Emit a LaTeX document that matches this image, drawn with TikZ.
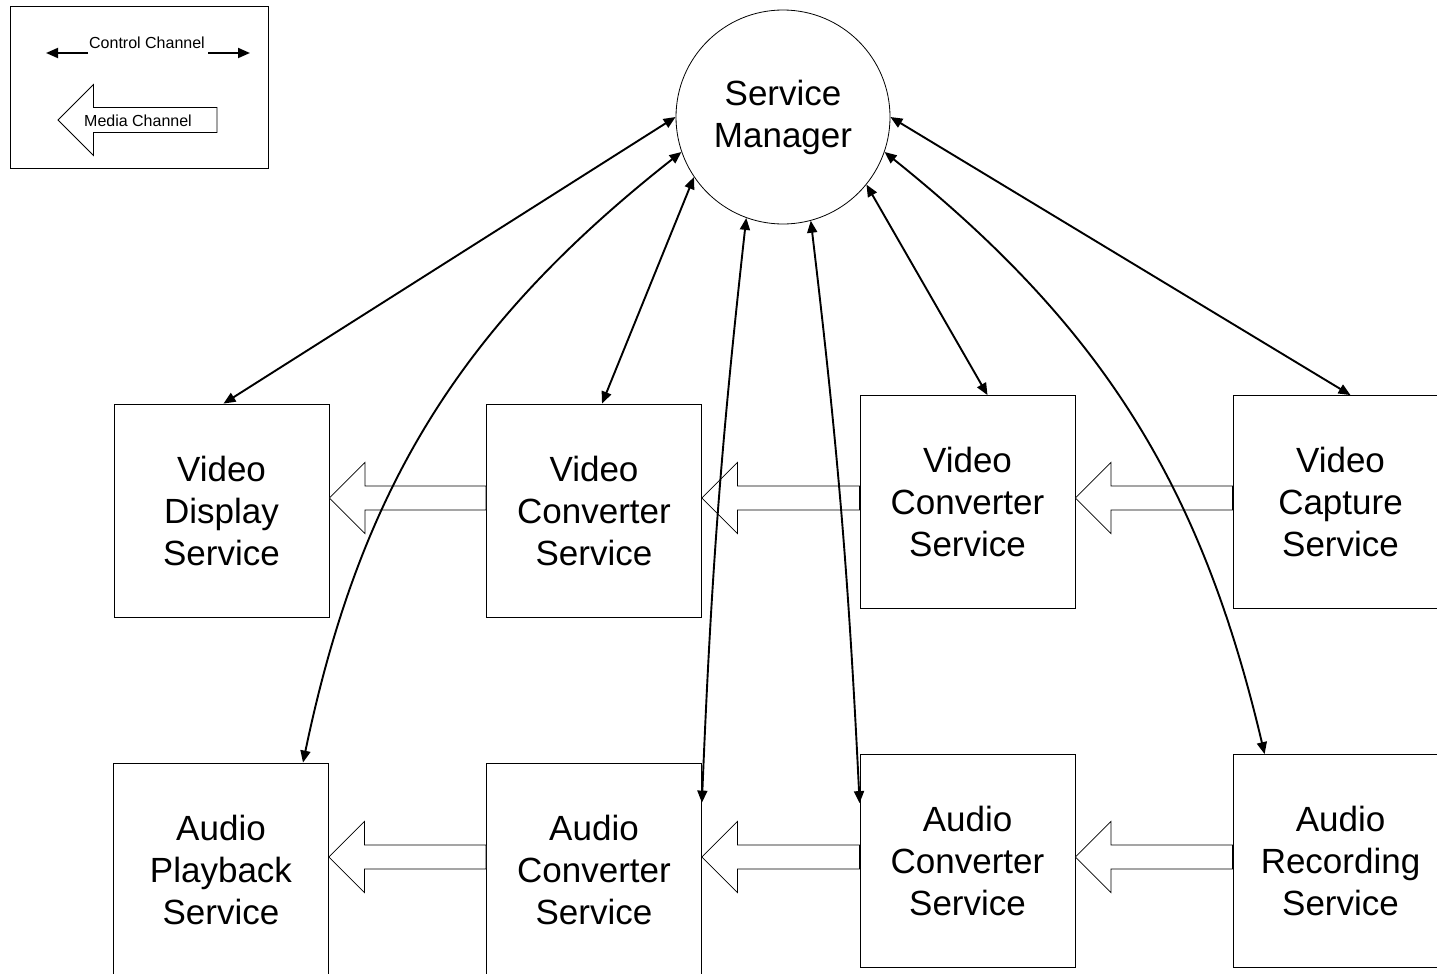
\documentclass[tikz,border=0pt]{standalone}
\usepackage{fontspec}
\setmainfont{Liberation Sans}
\usetikzlibrary{arrows.meta,calc}

\tikzset{
  svcbox/.style={draw, line width=0.8pt, fill=white, minimum width=215pt, minimum height=213pt,
    inner sep=0pt, align=center, font=\fontsize{35}{42}\selectfont},
  manager/.style={draw, circle, line width=0.8pt, fill=white, minimum size=214pt, inner sep=0pt,
    align=center, font=\fontsize{35}{42}\selectfont},
  ctrl/.style={line width=1.9pt,
    {Triangle[length=12pt,width=10pt]}-{Triangle[length=12pt,width=10pt]}},
  ctrlone/.style={line width=1.9pt, -{Triangle[length=12pt,width=10pt]}},
  mediaarrow/.style={draw, line width=0.8pt, fill=white, line join=miter},
  legendtext/.style={font=\fontsize{16}{19}\selectfont, inner sep=0pt},
}

% Hollow block arrow pointing left: from the west side of #1 to the east side of #2, on height #3
\newcommand\mediaflow[3]{%
  \path[mediaarrow] let \p1=(#1.west), \p2=(#2.east) in
    (\x2,#3pt) -- (\x2+35.5pt,#3pt+35.5pt) -- (\x2+35.5pt,#3pt+12pt) -- (\x1,#3pt+12pt)
    -- (\x1,#3pt-12pt) -- (\x2+35.5pt,#3pt-12pt) -- (\x2+35.5pt,#3pt-35.5pt) -- cycle;}

\begin{document}
\begin{tikzpicture}[x=1pt,y=1pt]
\clip (0,0) rectangle (1437,-974);
\fill[white] (0,0) rectangle (1437,-974);

% Legend
\node[draw, line width=0.8pt, minimum width=258pt, minimum height=162pt, inner sep=0pt] (legend) at (139,-87) {};
\node[legendtext] (ctltext) at (147,-43) {Control Channel};
\coordinate (ctlLa) at (88,-53);
\coordinate (ctlLb) at (46,-53);
\coordinate (ctlRa) at (208,-53);
\coordinate (ctlRb) at (250,-53);
\draw[ctrlone] (ctlLa) -- (ctlLb);
\draw[ctrlone] (ctlRa) -- (ctlRb);
\path[mediaarrow] (58,-120) -- (93.5,-84.5) -- (93.5,-107.5) -- (217,-107.5)
  -- (217,-132.5) -- (93.5,-132.5) -- (93.5,-155.5) -- cycle;
\node[legendtext] (medtext) at (138,-121) {Media Channel};

% Service manager
\node[manager] (sm) at (783,-117) {Service\\Manager};

% Video services
\node[svcbox] (vd)   at (221.5,-510.5) {Video\\Display\\Service};
\node[svcbox] (vc1)  at (594,-510.5)   {Video\\Converter\\Service};
\node[svcbox] (vc2)  at (967.5,-502)   {Video\\Converter\\Service};
\node[svcbox] (vcap) at (1340.5,-502)  {Video\\Capture\\Service};

% Audio services
\node[svcbox] (ap)  at (221,-869.5)   {Audio\\Playback\\Service};
\node[svcbox] (ac1) at (594,-869.5)   {Audio\\Converter\\Service};
\node[svcbox] (ac2) at (967.5,-861)   {Audio\\Converter\\Service};
\node[svcbox] (ar)  at (1340.5,-861)  {Audio\\Recording\\Service};

% Media channels
\mediaflow{vc1}{vd}{-498}
\mediaflow{vc2}{vc1}{-498}
\mediaflow{vcap}{vc2}{-498}
\mediaflow{ac1}{ap}{-857}
\mediaflow{ac2}{ac1}{-857}
\mediaflow{ar}{ac2}{-857}

% Control channels
\draw[ctrl] (sm.180) -- ([xshift=2pt]vd.north);
\draw[ctrl] (sm.199) to[bend right=20] ([xshift=82pt]ap.north);
\draw[ctrl] (sm.214) -- ([xshift=8pt]vc1.north);
\draw[ctrl] (sm.250) to[bend right=2] ([yshift=-40pt]ac1.north east);
\draw[ctrl] (sm.285) to[bend left=2] ([yshift=-49pt]ac2.north west);
\draw[ctrl] (sm.321) -- ([xshift=20pt]vc2.north);
\draw[ctrl] (sm.341) to[bend left=19] ([xshift=32pt]ar.north west);
\draw[ctrl] (sm.0) -- ([xshift=10pt]vcap.north);
\end{tikzpicture}
\end{document}
